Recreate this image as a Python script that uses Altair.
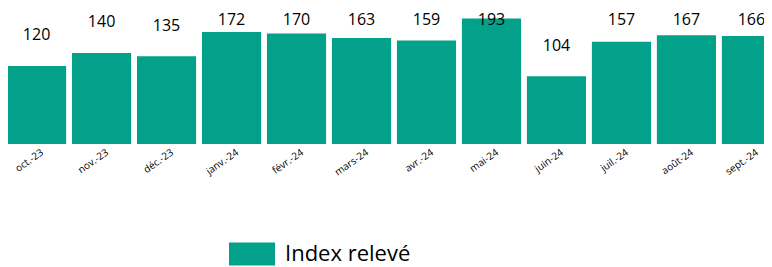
import altair as alt
import pandas as pd

months = ["oct.-23", "nov.-23", "déc.-23", "janv.-24", "févr.-24", "mars-24",
          "avr.-24", "mai-24", "juin-24", "juil.-24", "août-24", "sept.-24"]
values = [120, 140, 135, 172, 170, 163, 159, 193, 104, 157, 167, 166]
series = ["Index relevé"] * len(months)

df = pd.DataFrame({"mois": months, "valeur": values, "serie": series})

FONT = "Open Sans"
COLOR = "#03A08A"

x = alt.X("mois:N", sort=months,
          scale=alt.Scale(paddingInner=0.09, paddingOuter=0, range=[-1, 773]),
          axis=alt.Axis(title=None, domain=False, ticks=False, labelAngle=-35,
                        labelAlign="right", labelBaseline="top", labelOffset=3,
                        labelPadding=3, labelFontSize=10, labelColor="#000",
                        labelFont=FONT))

bars = alt.Chart(df).mark_bar(color=COLOR).encode(
    x=x,
    y=alt.Y("valeur:Q", scale=alt.Scale(domain=[0, 209], nice=False), axis=None),
    color=alt.Color("serie:N", scale=alt.Scale(range=[COLOR]),
                    legend=alt.Legend(title=None, orient="none", legendX=221, legendY=223,
                                      symbolType="M-1,-0.5H1V0.5H-1Z", symbolSize=2116,
                                      symbolStrokeWidth=0, symbolOpacity=1,
                                      labelFontSize=22, labelFont=FONT, labelColor="#000",
                                      labelOffset=10, padding=0)),
)

labels = alt.Chart(df).transform_calculate(
    ly="min(datum.valeur + 47, 191)"
).mark_text(font=FONT, fontSize=16, color="#000", baseline="middle").encode(
    x=alt.X("mois:N", sort=months),
    y=alt.Y("ly:Q"),
    text=alt.Text("valeur:Q"),
)

chart = alt.layer(bars, labels).properties(
    width=756, height=136,
    autosize=alt.AutoSizeParams(type="none"),
    padding={"left": 0, "top": 0, "right": 0, "bottom": 123}
).configure_view(stroke=None)

chart.save("out.html", embed_options={"renderer": "svg", "actions": False})
